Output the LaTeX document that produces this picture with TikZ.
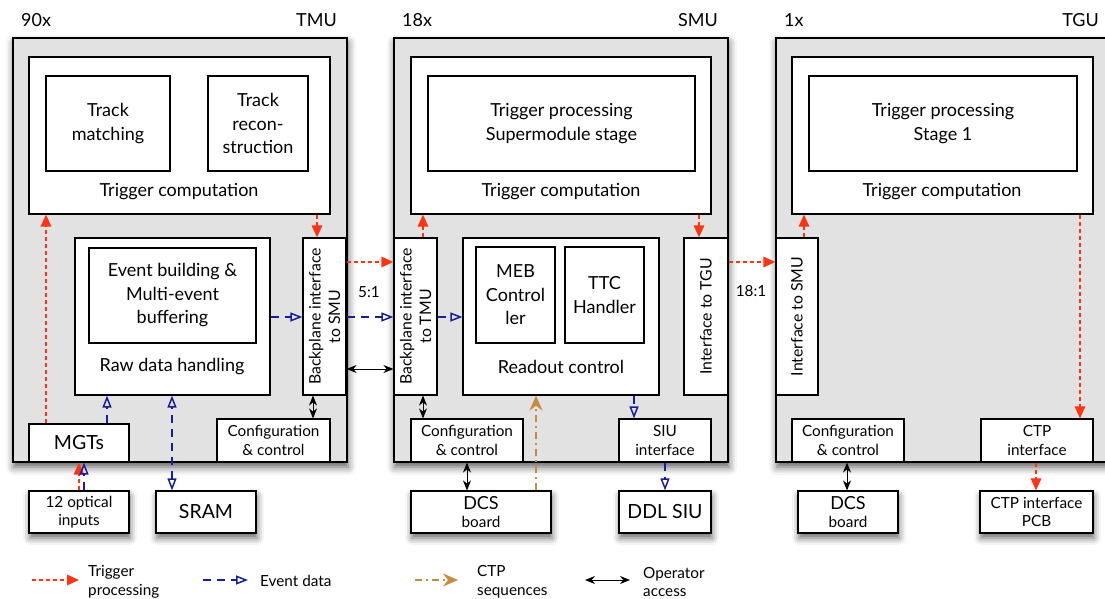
\documentclass[tikz,border=0pt]{standalone}
\usepackage{fontspec}
\setmainfont{Lato}
\usetikzlibrary{arrows.meta,shadows.blur}

\definecolor{unitgray}{RGB}{226,226,226}
\definecolor{trigred}{RGB}{252,52,20}
\definecolor{evblue}{RGB}{22,32,150}
\definecolor{ctpbrown}{RGB}{200,140,62}

\newcommand{\szA}{\fontsize{18}{23.5}\selectfont}
\newcommand{\szB}{\fontsize{15.3}{18.5}\selectfont}
\newcommand{\szC}{\fontsize{19.5}{22}\selectfont}

% \blk[style]{name}{x1}{y1}{x2}{y2}{text}: a box given by two corners
\newcommand{\blk}[7][]{%
  \node[#1,minimum width={#5-#3},minimum height={#6-#4}] (#2)
    at ({(#3+#5)/2},{(#4+#6)/2}) {#7};}

\tikzset{
  x=1pt, y=-1pt,
  unitbox/.style={draw, line width=1.7pt, fill=unitgray, inner sep=0pt,
    blur shadow={shadow xshift=1pt, shadow yshift=-5pt,
      shadow blur radius=8pt, shadow opacity=65}},
  blockbox/.style={draw, line width=1.2pt, fill=white, inner sep=0pt,
    align=center, font=\szA},
  smallbox/.style={blockbox, font=\szB},
  extbox/.style={blockbox, font=\szB,
    blur shadow={shadow xshift=1pt, shadow yshift=-5pt,
      shadow blur radius=7pt, shadow opacity=60}},
  unitlabel/.style={font=\szA, inner sep=0pt},
  txt/.style={font=\szA, inner sep=0pt, align=center},
  legtxt/.style={font=\szB, inner sep=0pt, align=left, anchor=west},
  vlabel/.style={label={[rotate=90, align=center, font=\fontsize{15.8}{19.5}\selectfont]center:#1}},
  trig/.style={draw=trigred, line width=1.6pt, dash pattern=on 4pt off 3pt,
    -{Triangle[length=12pt, width=10.5pt]}},
  evt/.style={draw=evblue, line width=1.5pt, dash pattern=on 8pt off 6pt,
    -{Triangle[open, length=12pt, width=9pt]}},
  evtboth/.style={draw=evblue, line width=1.5pt, dash pattern=on 8pt off 6pt,
    {Triangle[open, length=12pt, width=9pt]}-{Triangle[open, length=12pt, width=9pt]}},
  ctp/.style={draw=ctpbrown, line width=1.8pt,
    dash pattern=on 7pt off 4pt on 2pt off 4pt,
    -{Stealth[length=15pt, width=13pt, inset=5pt]}},
  op/.style={draw=black, line width=1pt,
    {Stealth[length=10pt, width=8pt]}-{Stealth[length=10pt, width=8pt]}},
}

\begin{document}
\begin{tikzpicture}
\useasboundingbox (0,0) rectangle (1105,599);
\clip (0,0) rectangle (1105,599);

% ---------------- units ----------------
\blk[unitbox]{tmu}{13}{38}{347}{462}{}
\blk[unitbox]{smu}{394}{38}{728}{462}{}
\blk[unitbox]{tgu}{776}{38}{1120}{462}{}

\node[unitlabel, anchor=west] (tmuN) at (21,20) {90x};
\node[unitlabel, anchor=east] (tmuL) at (337,20) {TMU};
\node[unitlabel, anchor=west] (smuN) at (402,20) {18x};
\node[unitlabel, anchor=east] (smuL) at (718,20) {SMU};
\node[unitlabel, anchor=west] (tguN) at (784,20) {1x};
\node[unitlabel, anchor=east] (tguL) at (1099,20) {TGU};

% ---------------- TMU ----------------
\blk[blockbox]{tc1}{29}{57}{330}{214}{}
\node[txt] (tc1t) at (179,192) {Trigger computation};
\blk[blockbox]{tm}{46}{76}{170}{171}{Track\\matching}
\blk[blockbox]{tr}{208}{76}{308}{171}{Track\\recon-\\struction}
\blk[blockbox]{rdh}{75}{238}{270}{395}{}
\node[txt] (rdht) at (172,367) {Raw data handling};
\blk[blockbox]{eb}{89}{248}{256}{343}{Event building \&\\Multi-event\\buffering}
\blk[blockbox, vlabel={Backplane interface\\to SMU}]{bpS}{303}{238}{346}{395}{}
\blk[smallbox]{cfg1}{217}{419}{330}{462}{Configuration\\\& control}
\blk[blockbox, font=\szC]{mgt}{29}{424}{129}{462}{MGTs}
\blk[extbox]{opt}{29}{491}{129}{533}{12 optical\\inputs}
\blk[extbox, font=\szC]{sram}{156}{491}{256}{533}{SRAM}

% ---------------- SMU ----------------
\blk[blockbox]{tc2}{411}{57}{711}{214}{}
\node[txt] (tc2t) at (561,192) {Trigger computation};
\blk[blockbox]{tps}{428}{76}{695}{171}{Trigger processing\\Supermodule stage}
\blk[blockbox, vlabel={Backplane interface\\to TMU}]{bpT}{394}{238}{437}{395}{}
\blk[blockbox]{roc}{463}{238}{659}{395}{}
\node[txt] (roct) at (561,367) {Readout control};
\blk[blockbox]{meb}{476}{247}{555}{343}{MEB\\Control\\ler}
\blk[blockbox]{ttc}{565}{247}{644}{343}{TTC\\Handler}
\blk[blockbox, vlabel={Interface to TGU}]{ifT}{684}{238}{728}{395}{}
\blk[smallbox]{cfg2}{411}{419}{523}{462}{Configuration\\\& control}
\blk[smallbox]{siu}{619}{419}{711}{462}{SIU\\interface}
\blk[extbox]{dcs2}{411}{491}{551}{533}{{\szA DCS}\\board}
\blk[extbox, font=\szC]{ddl}{619}{491}{711}{533}{DDL SIU}

% ---------------- TGU ----------------
\blk[blockbox]{tc3}{792}{57}{1093}{214}{}
\node[txt] (tc3t) at (942,192) {Trigger computation};
\blk[blockbox]{tp1}{809}{76}{1077}{171}{Trigger processing\\Stage 1}
\blk[blockbox, vlabel={Interface to SMU}]{ifS}{776}{238}{818}{395}{}
\blk[smallbox]{cfg3}{792}{419}{904}{462}{Configuration\\\& control}
\blk[smallbox]{ctpi}{981}{419}{1093}{462}{CTP\\interface}
\blk[extbox]{dcs3}{798}{491}{898}{533}{{\szA DCS}\\board}
\blk[extbox]{pcb}{980}{491}{1093}{533}{CTP interface\\PCB}

% ---------------- alignment guides ----------------
\coordinate (v46) at (46,0);
\coordinate (v79) at (79,0);
\coordinate (v84) at (84,0);
\coordinate (v107) at (107,0);
\coordinate (v172) at (172,0);
\coordinate (v313) at (313,0);
\coordinate (v317) at (317,0);
\coordinate (v423) at (423,0);
\coordinate (v467) at (467,0);
\coordinate (v536) at (536,0);
\coordinate (v634) at (634,0);
\coordinate (v665) at (665,0);
\coordinate (v699) at (699,0);
\coordinate (v804) at (804,0);
\coordinate (v847) at (847,0);
\coordinate (v1036) at (1036,0);
\coordinate (v1080) at (1080,0);
\coordinate (h262) at (0,262);
\coordinate (h317) at (0,317);
\coordinate (h369) at (0,369);

% ---------------- connectors: TMU ----------------
\draw[trig] (mgt.north -| v46) -- (tc1.south -| v46);
\draw[trig] (tc1.south -| v317) -- (bpS.north -| v317);
\draw[evt] (mgt.north -| v107) -- (rdh.south -| v107);
\draw[evtboth] (sram.north -| v172) -- (rdh.south -| v172);
\draw[evt] (rdh.east |- h317) -- (bpS.west |- h317);
\draw[op] (bpS.south -| v313) -- (cfg1.north -| v313);
\draw[trig] (opt.north -| v79) -- (mgt.south -| v79);
\draw[evt] (opt.north -| v84) -- (mgt.south -| v84);

% ---------------- connectors: TMU to SMU ----------------
\draw[trig] (bpS.east |- h262) -- (bpT.west |- h262);
\draw[evt] (bpS.east |- h317) -- (bpT.west |- h317);
\draw[op] (bpS.east |- h369) -- (bpT.west |- h369);
\node[font=\szB] (r51) at (369,292) {5:1};

% ---------------- connectors: SMU ----------------
\draw[trig] (bpT.north -| v423) -- (tc2.south -| v423);
\draw[trig] (tc2.south -| v699) -- (ifT.north -| v699);
\draw[evt] (bpT.east |- h317) -- (roc.west |- h317);
\draw[op] (bpT.south -| v423) -- (cfg2.north -| v423);
\draw[evt] (roc.south -| v634) -- (siu.north -| v634);
\draw[ctp] (dcs2.north -| v536) -- (roc.south -| v536);
\draw[op] (cfg2.south -| v467) -- (dcs2.north -| v467);
\draw[evt] (siu.south -| v665) -- (ddl.north -| v665);

% ---------------- connectors: SMU to TGU ----------------
\draw[trig] (ifT.east |- h262) -- (ifS.west |- h262);
\node[font=\szB] (r181) at (751,291) {18:1};

% ---------------- connectors: TGU ----------------
\draw[trig] (ifS.north -| v804) -- (tc3.south -| v804);
\draw[trig] (tc3.south -| v1080) -- (ctpi.north -| v1080);
\draw[op] (cfg3.south -| v847) -- (dcs3.north -| v847);
\draw[trig] (ctpi.south -| v1036) -- (pcb.north -| v1036);

% ---------------- legend ----------------
\coordinate (la1) at (32,580);  \coordinate (lb1) at (79,580);
\coordinate (la2) at (203,580); \coordinate (lb2) at (248,580);
\coordinate (la3) at (415,580); \coordinate (lb3) at (458,580);
\coordinate (la4) at (585,580); \coordinate (lb4) at (630,580);
\draw[trig] (la1) -- (lb1);
\draw[evt] (la2) -- (lb2);
\draw[ctp] (la3) -- (lb3);
\draw[op] (la4) -- (lb4);
\node[legtxt] (lt1) at (88,582) {Trigger\\processing};
\node[legtxt] (lt2) at (260,581) {Event data};
\node[legtxt] (lt3) at (477,582) {CTP\\sequences};
\node[legtxt] (lt4) at (643,582) {Operator\\access};
\end{tikzpicture}
\end{document}
